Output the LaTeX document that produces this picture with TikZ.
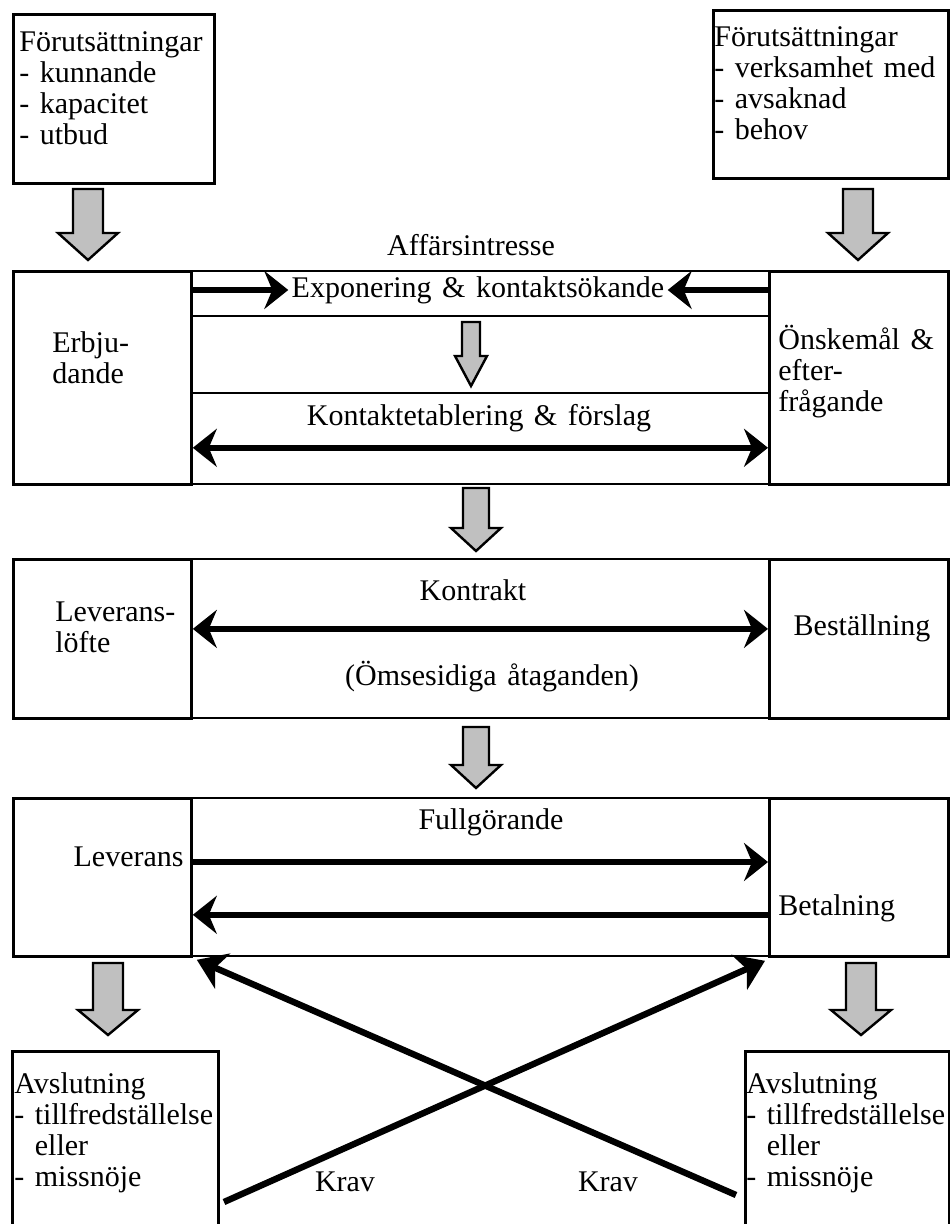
\documentclass[tikz,border=0pt]{standalone}
\usepackage{fontspec}
\setmainfont[WordSpace=1.4]{Liberation Serif}
\usetikzlibrary{arrows.meta,positioning,calc}

\definecolor{arrowgray}{RGB}{192,192,192}

% fat grey down arrow: x, top, head start, tip, shaft half width, head half width
\newcommand{\fatarrow}[6]{%
  \draw[fat] (#1-#5,#2) -- (#1+#5,#2) -- (#1+#5,#3) -- (#1+#6,#3) -- (#1,#4)
    -- (#1-#6,#3) -- (#1-#5,#3) -- cycle;}

\begin{document}
\begin{tikzpicture}[
  x=0.5pt, y=-0.5pt,
  box/.style   = {draw, line width=1.4pt, inner sep=0pt, anchor=north west},
  midbox/.style= {draw, line width=0.9pt, inner sep=0pt, anchor=north west},
  txt/.style   = {font=\fontsize{15}{15.5}\selectfont, inner sep=0pt, align=left},
  line/.style  = {-{Stealth[length=12pt,width=19pt,inset=4pt]}, line width=2.8pt},
  dline/.style = {{Stealth[length=12pt,width=19pt,inset=4pt]}-{Stealth[length=12pt,width=19pt,inset=4pt]}, line width=2.8pt},
  krav/.style  = {-{Stealth[length=14pt,width=19pt,inset=4pt]}, line width=3.2pt},
  fat/.style   = {draw, line width=1.2pt, fill=arrowgray, line join=miter}
]
\useasboundingbox (0,0) rectangle (949,1224);

% Prerequisites
\node[box, minimum width=100.5pt, minimum height=84.5pt] (lpre) at (12,13) {};
\node[box, minimum width=117.5pt, minimum height=84pt] (rpre) at (712,9) {};
\node[txt, anchor=base west] (lpretxt) at (19,145) {Förutsättningar\\- kunnande\\- kapacitet\\- utbud};
\node[txt, anchor=base west] (rpretxt) at (714,140) {Förutsättningar\\- verksamhet med\\- avsaknad\\- behov};

\fatarrow{88}{189}{233}{260}{15}{30}
\fatarrow{858}{189}{233}{260}{15}{30}

\node[txt] (intr) at (471,245) {Affärsintresse};

% Row 1
\node[box, minimum width=89pt, minimum height=106.5pt] (lofr) at (12,270) {};
\node[midbox, minimum width=289pt, minimum height=106.5pt] (mid1) at (190,270) {};
\node[box, minimum width=89.5pt, minimum height=106.5pt] (rdem) at (768,270) {};
\draw[line width=0.9pt] ($(mid1.north west)+(0,46)$) -- ($(mid1.north east)+(0,46)$);
\draw[line width=0.9pt] ($(mid1.north west)+(0,123)$) -- ($(mid1.north east)+(0,123)$);

\node[txt, anchor=base west] (erbj) at (52,384) {Erbju-\\dande};
\node[txt, anchor=base west] (onsk) at (778,412) {Önskemål \&\\efter-\\frågande};
\node[txt] (expo) at (478,290) {Exponering \& kontaktsökande};
\node[txt] (etab) at (479,418) {Kontaktetablering \& förslag};

\draw[line] (lofr.east |- expo) -- ([xshift=-1.5pt]expo.west);
\draw[line] (rdem.west |- expo) -- ([xshift=1.5pt]expo.east);
\fatarrow{471}{322}{356}{386}{9}{16}
\draw[dline] ($(lofr.south east)+(0,-38)$) -- ($(rdem.south west)+(0,-38)$);

\fatarrow{476}{488}{528}{551}{13}{25}

% Row 2
\node[box, minimum width=89pt, minimum height=79.5pt] (levl) at (12,558) {};
\node[midbox, minimum width=289pt, minimum height=79.5pt] (mid2) at (190,558) {};
\node[box, minimum width=89.5pt, minimum height=79.5pt] (best) at (768,558) {};

\node[txt, anchor=base west] (lvlt) at (55,652) {Leverans-\\löfte};
\node[txt] (bstl) at (862,628) {Beställning};
\node[txt] (kontr) at (473,590) {Kontrakt};
\node[txt] (omse) at (492,677) {(Ömsesidiga åtaganden)};
\draw[dline] ($(levl.east)+(0,-10)$) -- ($(best.west)+(0,-10)$);

\fatarrow{476}{727}{765}{788}{13}{25}

% Row 3
\node[box, minimum width=89pt, minimum height=79pt] (levr) at (12,797) {};
\node[midbox, minimum width=289pt, minimum height=79pt] (mid3) at (190,797) {};
\node[box, minimum width=89.5pt, minimum height=79pt] (betl) at (768,797) {};

\node[txt] (fullg) at (491,822) {Fullgörande};
\node[txt, anchor=east] (levtxt) at (184,857) {Leverans};
\node[txt, anchor=west] (bettxt) at (778,908) {Betalning};
\draw[line] ($(levr.north east)+(0,65)$) -- ($(betl.north west)+(0,65)$);
\draw[line] ($(betl.south west)+(0,-43)$) -- ($(levr.south east)+(0,-43)$);

\fatarrow{108}{963}{1010}{1035}{15}{30}
\fatarrow{861}{963}{1010}{1035}{15}{30}

% Closing
\node[box, minimum width=103pt, minimum height=100pt] (lavs) at (11,1050) {};
\node[box, minimum width=102pt, minimum height=100pt] (ravs) at (744,1050) {};
\node[txt, anchor=base west] (lavstxt) at (14,1186) {Avslutning\\- tillfredställelse\\\hphantom{- }eller\\- missnöje};
\node[txt, anchor=base west] (ravstxt) at (746,1186) {Avslutning\\- tillfredställelse\\\hphantom{- }eller\\- missnöje};

% Claims
\coordinate (kA) at (224,1202);
\coordinate (kB) at (736,1195);
\draw[krav] (kA) -- ([shift={(-3,3)}]betl.south west);
\draw[krav] (kB) -- ([shift={(4,2)}]levr.south east);
\node[txt] (krav1) at (345,1182) {Krav};
\node[txt] (krav2) at (608,1182) {Krav};

\end{tikzpicture}
\end{document}
